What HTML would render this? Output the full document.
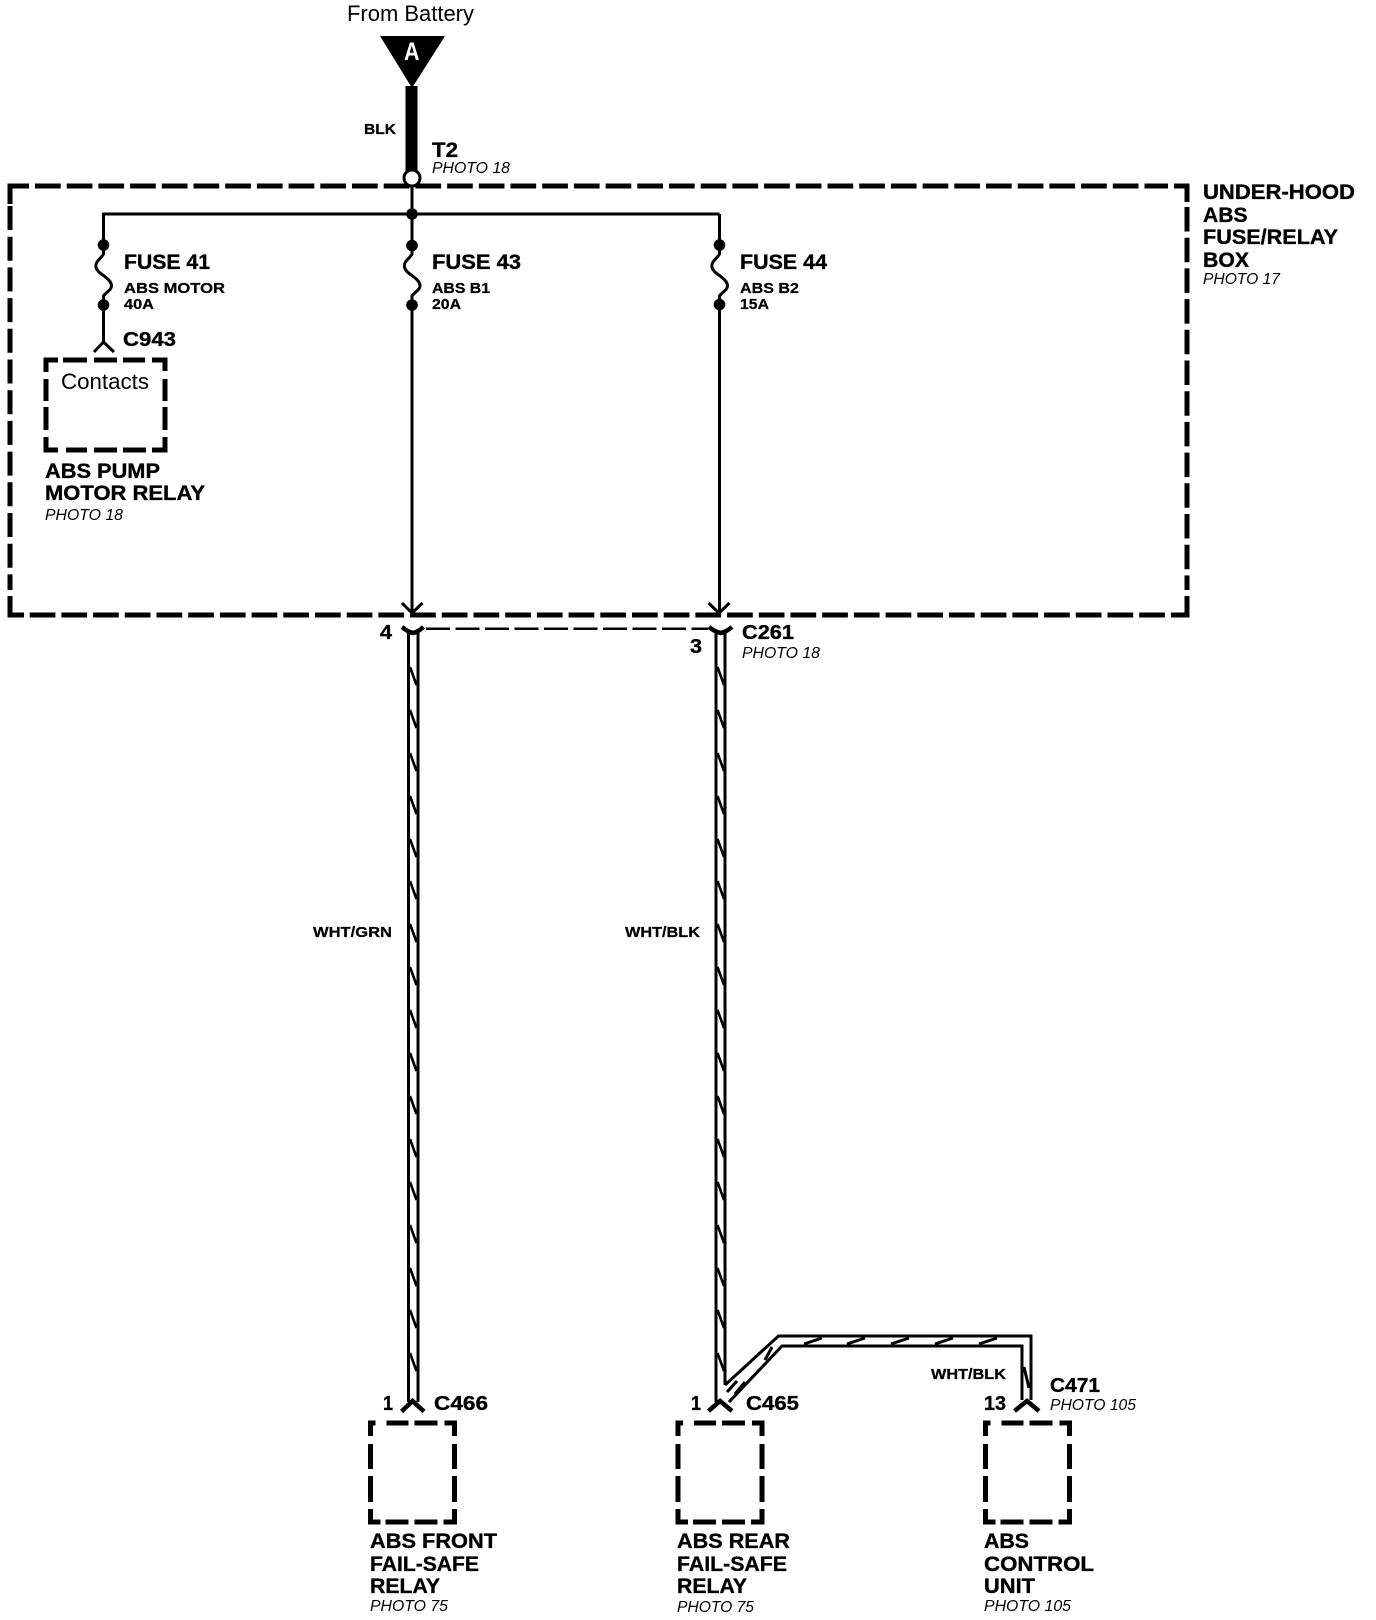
<!DOCTYPE html>
<html><head><meta charset="utf-8"><style>
html,body{margin:0;padding:0;background:#fff}
svg{display:block}
text{font-family:"Liberation Sans",Arial,sans-serif;fill:#000}
.b{font-weight:bold;font-size:21px;stroke:#000;stroke-width:.35px}
.c{font-weight:bold;font-size:20px;stroke:#000;stroke-width:.35px}
.s{font-weight:bold;font-size:15px;stroke:#000;stroke-width:.25px}
.i{font-style:italic;font-size:15.5px}
.r{font-size:22px}
.w{fill:none;stroke:#000;stroke-width:3}
.d{fill:none;stroke:#000;stroke-width:5}
</style></head><body>
<svg width="1376" height="1620" viewBox="0 0 1376 1620" xmlns="http://www.w3.org/2000/svg">
<defs>
<path id="h" d="M410 0L416.500 18" fill="none" stroke="#000" stroke-width="2.600"/>
<g id="hs">
<use href="#h" y="667"/><use href="#h" y="710"/><use href="#h" y="753"/><use href="#h" y="796"/><use href="#h" y="839"/><use href="#h" y="881"/><use href="#h" y="924"/><use href="#h" y="967"/><use href="#h" y="1010"/><use href="#h" y="1053"/><use href="#h" y="1096"/><use href="#h" y="1139"/><use href="#h" y="1182"/><use href="#h" y="1225"/><use href="#h" y="1268"/><use href="#h" y="1310"/><use href="#h" y="1353"/>
</g>
<g id="bx" class="d">
<path d="M0 13V0H5M16 0H38M44 0H67M74 0H84V13M84 21V46M84 53V79M84 86V99H73M67 99H44M38 99H15M10 99H0V86M0 79V53M0 46V21"/>
</g>
</defs>

<!-- top -->
<text class="r" x="347" y="21" textLength="127" lengthAdjust="spacingAndGlyphs">From Battery</text>
<polygon points="380,36 445,36 412,88" fill="#000"/>
<text x="404" y="60" font-size="25" font-weight="bold" textLength="15.500" lengthAdjust="spacingAndGlyphs" style="fill:#fff">A</text>
<rect x="405.500" y="86" width="12" height="86" fill="#000"/>
<text class="s" x="364" y="134" textLength="32" lengthAdjust="spacingAndGlyphs">BLK</text>
<text class="b" x="432" y="157" textLength="26" lengthAdjust="spacingAndGlyphs">T2</text>
<text class="i" x="432" y="173" textLength="78" lengthAdjust="spacingAndGlyphs">PHOTO 18</text>

<!-- outer dashed box -->
<g class="d">
<path d="M10 204V186H29" />
<path d="M35 186H1168" stroke-dasharray="25.700 6"/>
<path d="M1174 186H1187V202"/>
<path d="M1187 207V590" stroke-dasharray="24.500 6.200"/>
<path d="M10 206V590" stroke-dasharray="24 6.700"/>
<path d="M10 596V615H24"/>
<path d="M29.700 615H1187" stroke-dasharray="25.700 6"/>
<path d="M1187 596V615H1180"/>
</g>

<!-- circle & bus -->
<circle cx="412" cy="178" r="8" fill="#fff" stroke="#000" stroke-width="3"/>
<path class="w" d="M412 186V245M412 305V613M719.500 214V245M719.500 304V613M103.500 245V214H719.500"/>
<circle cx="412" cy="214" r="5.800"/>

<!-- fuses -->
<g class="w">
<path d="M103.500 245V254C101 259 95 261 96 267C97 274 110 277 111.500 285C112 290 106 292 103.500 296V342"/>
<path d="M94 352L103.500 342L114 352"/>
<path d="M412 245V254C409.500 259 403.500 261 404.500 267C405.500 274 418.500 277 420 285C420.500 290 414.500 292 412 296V305"/>
<path d="M719.500 245V254C717 259 711 261 712 267C713 274 726 277 727.500 285C728 290 722 292 719.500 296V305"/>
</g>
<circle cx="103.500" cy="245" r="5.800"/><circle cx="103.500" cy="305" r="5.800"/>
<circle cx="412" cy="245.500" r="5.800"/><circle cx="412" cy="305" r="5.800"/>
<circle cx="719.500" cy="245" r="5.800"/><circle cx="719.500" cy="304.500" r="5.800"/>

<text class="b" x="124" y="269" textLength="86" lengthAdjust="spacingAndGlyphs">FUSE 41</text>
<text class="s" x="124" y="293" textLength="101" lengthAdjust="spacingAndGlyphs">ABS MOTOR</text>
<text class="s" x="124" y="309" textLength="30" lengthAdjust="spacingAndGlyphs">40A</text>
<text class="c" x="123" y="346" textLength="53" lengthAdjust="spacingAndGlyphs">C943</text>
<text class="b" x="432" y="269" textLength="89" lengthAdjust="spacingAndGlyphs">FUSE 43</text>
<text class="s" x="432" y="293" textLength="58" lengthAdjust="spacingAndGlyphs">ABS B1</text>
<text class="s" x="432" y="309" textLength="29" lengthAdjust="spacingAndGlyphs">20A</text>
<text class="b" x="740" y="269" textLength="87" lengthAdjust="spacingAndGlyphs">FUSE 44</text>
<text class="s" x="740" y="293" textLength="59" lengthAdjust="spacingAndGlyphs">ABS B2</text>
<text class="s" x="740" y="309" textLength="29" lengthAdjust="spacingAndGlyphs">15A</text>

<!-- contacts box -->
<path class="d" d="M46 372V360H58M63 360H87M94 360H117M123 360H145M152 360H165V371M165 379V401M165 407V430M165 437V450H152M146 450H123M117 450H94M87 450H66M58 450H46V437M46 430V407M46 401V379"/>
<text class="r" x="61" y="389" textLength="88" lengthAdjust="spacingAndGlyphs">Contacts</text>
<text class="b" x="45" y="478" textLength="115" lengthAdjust="spacingAndGlyphs">ABS PUMP</text>
<text class="b" x="45" y="500" textLength="160" lengthAdjust="spacingAndGlyphs">MOTOR RELAY</text>
<text class="i" x="45" y="520" textLength="78" lengthAdjust="spacingAndGlyphs">PHOTO 18</text>

<!-- box label -->
<text class="b" x="1203" y="199" textLength="152" lengthAdjust="spacingAndGlyphs">UNDER-HOOD</text>
<text class="b" x="1203" y="222" textLength="44.500" lengthAdjust="spacingAndGlyphs">ABS</text>
<text class="b" x="1203" y="244" textLength="135" lengthAdjust="spacingAndGlyphs">FUSE/RELAY</text>
<text class="b" x="1203" y="267" textLength="46" lengthAdjust="spacingAndGlyphs">BOX</text>
<text class="i" x="1203" y="284" textLength="77" lengthAdjust="spacingAndGlyphs">PHOTO 17</text>

<!-- arrows into connector -->
<path class="w" d="M402 603L412 613L422.500 603M708.500 603L719 613L729.500 603"/>

<!-- C261 connectors -->
<path d="M402 627Q408 632 413 633Q418 632 423.500 627M709 627Q715 632 721 633Q726 632 732 627" fill="none" stroke="#000" stroke-width="4.500"/>
<path d="M426 628.700H708" fill="none" stroke="#000" stroke-width="2.500" stroke-dasharray="24 5.500"/>

<!-- main wires -->
<path class="w" d="M408.500 632V1402M418 632V1402M716 632V1402M725 632V1385"/>
<use href="#hs"/>
<use href="#hs" x="307.500"/>

<text class="c" x="380" y="639" textLength="12" lengthAdjust="spacingAndGlyphs">4</text>
<text class="c" x="690" y="653" textLength="12" lengthAdjust="spacingAndGlyphs">3</text>
<text class="c" x="742" y="639" textLength="52" lengthAdjust="spacingAndGlyphs">C261</text>
<text class="i" x="742" y="658" textLength="78" lengthAdjust="spacingAndGlyphs">PHOTO 18</text>
<text class="s" x="313" y="937" textLength="79" lengthAdjust="spacingAndGlyphs">WHT/GRN</text>
<text class="s" x="625" y="937" textLength="75" lengthAdjust="spacingAndGlyphs">WHT/BLK</text>

<!-- branch -->
<path class="w" d="M725 1385L778.500 1336H1031V1400M729 1402L782 1346H1022V1400"/>
<path d="M804 1344L822 1338M847 1344L865 1338M891 1344L909 1338M935 1344L953 1338M979 1344L997 1338M1024 1367L1029 1388M765 1360L772 1347M735 1394L745 1382M727 1392L737 1381" fill="none" stroke="#000" stroke-width="3"/>
<text class="s" x="931" y="1379" textLength="75" lengthAdjust="spacingAndGlyphs">WHT/BLK</text>

<!-- bottom connectors -->
<g fill="none" stroke="#000" stroke-width="4.500">
<path d="M401.500 1411.500L412.500 1401L424 1411.500"/>
<path d="M708.500 1411L720 1401L732 1411"/>
<path d="M1014.500 1411L1027 1401L1039 1411"/>
</g>
<text class="c" x="383" y="1410" textLength="10" lengthAdjust="spacingAndGlyphs">1</text>
<text class="c" x="434" y="1410" textLength="54" lengthAdjust="spacingAndGlyphs">C466</text>
<text class="c" x="691" y="1410" textLength="10" lengthAdjust="spacingAndGlyphs">1</text>
<text class="c" x="746" y="1410" textLength="53" lengthAdjust="spacingAndGlyphs">C465</text>
<text class="c" x="984" y="1410" textLength="22" lengthAdjust="spacingAndGlyphs">13</text>
<text class="c" x="1050" y="1392" textLength="50" lengthAdjust="spacingAndGlyphs">C471</text>
<text class="i" x="1050" y="1410" textLength="86" lengthAdjust="spacingAndGlyphs">PHOTO 105</text>

<!-- bottom boxes -->
<use href="#bx" x="370.500" y="1423"/>
<use href="#bx" x="678" y="1423"/>
<use href="#bx" x="985.500" y="1423"/>

<text class="b" x="370" y="1548" textLength="127" lengthAdjust="spacingAndGlyphs">ABS FRONT</text>
<text class="b" x="370" y="1571" textLength="109" lengthAdjust="spacingAndGlyphs">FAIL-SAFE</text>
<text class="b" x="370" y="1593" textLength="70" lengthAdjust="spacingAndGlyphs">RELAY</text>
<text class="i" x="370" y="1611" textLength="78" lengthAdjust="spacingAndGlyphs">PHOTO 75</text>

<text class="b" x="677" y="1548" textLength="113" lengthAdjust="spacingAndGlyphs">ABS REAR</text>
<text class="b" x="677" y="1571" textLength="110" lengthAdjust="spacingAndGlyphs">FAIL-SAFE</text>
<text class="b" x="677" y="1593" textLength="70" lengthAdjust="spacingAndGlyphs">RELAY</text>
<text class="i" x="677" y="1612" textLength="77" lengthAdjust="spacingAndGlyphs">PHOTO 75</text>

<text class="b" x="984" y="1548" textLength="45" lengthAdjust="spacingAndGlyphs">ABS</text>
<text class="b" x="984" y="1571" textLength="110" lengthAdjust="spacingAndGlyphs">CONTROL</text>
<text class="b" x="984" y="1593" textLength="51" lengthAdjust="spacingAndGlyphs">UNIT</text>
<text class="i" x="984" y="1611" textLength="87" lengthAdjust="spacingAndGlyphs">PHOTO 105</text>
</svg>
</body></html>
